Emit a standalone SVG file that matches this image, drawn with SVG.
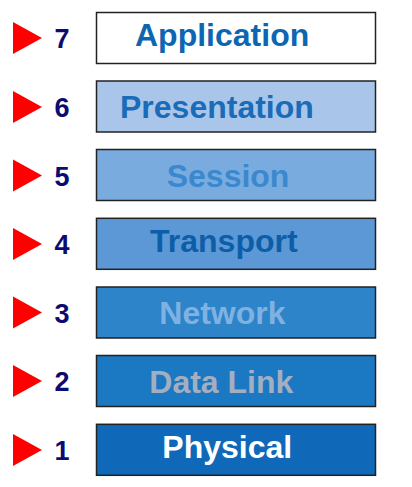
<svg xmlns="http://www.w3.org/2000/svg" width="412" height="487" viewBox="0 0 412 487">
<style>
.box{stroke:#222;stroke-width:1.5}
.lbl{font-family:"Liberation Sans",Arial,sans-serif;font-weight:bold;font-size:32px}
.num{font-family:"Liberation Sans",Arial,sans-serif;font-weight:bold;font-size:27px;fill:#0c0c70;text-anchor:middle}
.tri{fill:#ff0000}
</style>
<rect width="412" height="487" fill="#fff"/>
<g id="layer7">
<polygon class="tri" points="13,22 42,38 13,54"/>
<text class="num" x="62" y="48">7</text>
<rect class="box" x="96.5" y="12.5" width="279" height="51" fill="#ffffff"/>
<text class="lbl" x="135" y="45.7" fill="#0d66b2">Application</text>
</g>
<g id="layer6">
<polygon class="tri" points="13,91 42,107 13,123"/>
<text class="num" x="62" y="117">6</text>
<rect class="box" x="96.5" y="81" width="279" height="51" fill="#a9c6ea"/>
<text class="lbl" x="120" y="118.3" fill="#1a6cb8">Presentation</text>
</g>
<g id="layer5">
<polygon class="tri" points="13,159.5 42,175.5 13,191.5"/>
<text class="num" x="62" y="185.5">5</text>
<rect class="box" x="96.5" y="149.5" width="279" height="51" fill="#7aabdf"/>
<text class="lbl" x="166.7" y="186.7" fill="#3a88cd">Session</text>
</g>
<g id="layer4">
<polygon class="tri" points="13,228 42,244 13,260"/>
<text class="num" x="62" y="254">4</text>
<rect class="box" x="96.5" y="218.3" width="279" height="51" fill="#5b98d5"/>
<text class="lbl" x="150" y="252" fill="#0d5ea8">Transport</text>
</g>
<g id="layer3">
<polygon class="tri" points="13,296.5 42,312.5 13,328.5"/>
<text class="num" x="62" y="322.5">3</text>
<rect class="box" x="96.5" y="287" width="279" height="51" fill="#2d84c9"/>
<text class="lbl" x="159.3" y="323.7" fill="#80b2e1">Network</text>
</g>
<g id="layer2">
<polygon class="tri" points="13,365 42,381 13,397"/>
<text class="num" x="62" y="391">2</text>
<rect class="box" x="96.5" y="355.5" width="279" height="51" fill="#1b79c3"/>
<text class="lbl" x="149.3" y="392.7" fill="#a3afc0">Data Link</text>
</g>
<g id="layer1">
<polygon class="tri" points="13,434 42,450 13,466"/>
<text class="num" x="62" y="460">1</text>
<rect class="box" x="96.5" y="424.3" width="279" height="51" fill="#0f69b8"/>
<text class="lbl" x="162.3" y="458.3" fill="#ffffff">Physical</text>
</g>
<g id="connectors"></g>
</svg>
